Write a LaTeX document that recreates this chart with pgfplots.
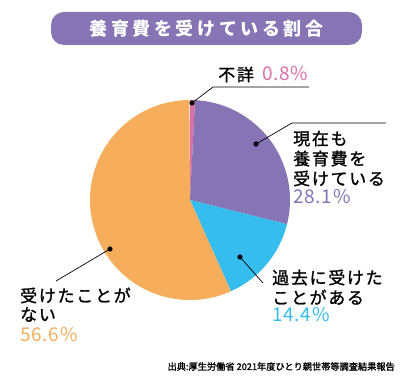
\documentclass[border=0pt]{standalone}
\usepackage{fontspec}
\usepackage{pgfplots}
\pgfplotsset{compat=1.18}
\newfontfamily\jp[LetterSpace=10,FakeBold=1.2]{Noto Sans CJK JP}
\newfontfamily\jpt[LetterSpace=20]{Noto Sans CJK JP}
\newfontfamily\num[LetterSpace=4]{Noto Sans CJK JP}
\newfontfamily\src[FakeBold=1.5]{Noto Sans CJK JP}
\definecolor{cpur}{HTML}{8674B5}
\definecolor{cblue}{HTML}{35BDEE}
\definecolor{corange}{HTML}{F6AE5C}
\definecolor{cpink}{HTML}{DC6EA9}
% data (percent)
\def\pA{0.8}   % 不詳
\def\pB{28.1}  % 現在も受けている
\def\pC{14.4}  % 過去に受けた
\def\pD{56.6}  % 受けたことがない
\pgfmathsetmacro\aA{90-3.6*\pA}
\pgfmathsetmacro\aB{\aA-3.6*\pB}
\pgfmathsetmacro\aC{\aB-3.6*\pC}
\pgfmathsetmacro\aD{\aC-3.6*\pD}
\newcommand\slice[3]{\fill[#3] (axis cs:190,188) -- ++(#1:100pt) arc[start angle=#1, end angle=#2, radius=100pt] -- cycle;}
\begin{document}
\begin{tikzpicture}
\begin{axis}[x=1pt,y=1pt,xmin=0,xmax=413,ymin=0,ymax=388,hide axis,clip=false]
\fill[white] (axis cs:0,0) rectangle (axis cs:413,388);
% title
\fill[cpur,rounded corners=13pt] (axis cs:51,343) rectangle (axis cs:362,376);
\node[text=white,font=\jpt\fontsize{18}{20}\selectfont\bfseries,inner sep=0] at (axis cs:206.5,359.5) {養育費を受けている割合};
% pie
\slice{90}{\aA}{cpink}
\slice{\aA}{\aB}{cpur}
\slice{\aB}{\aC}{cblue}
\slice{\aC}{\aD}{corange}
% leaders
\fill (axis cs:192,285) circle[radius=2.6pt];
\draw[line width=0.7pt] (axis cs:192,285) -- (axis cs:213,301) -- (axis cs:309,301);
\fill (axis cs:256,244) circle[radius=2.6pt];
\draw[line width=0.7pt] (axis cs:256,244) -- (axis cs:292,265) -- (axis cs:386,265);
\fill (axis cs:240,131) circle[radius=2.6pt];
\draw[line width=0.7pt] (axis cs:240,131) -- (axis cs:263,105);
\fill (axis cs:110,139) circle[radius=2.6pt];
\draw[line width=0.7pt] (axis cs:110,139) -- (axis cs:56,107);
% labels
\tikzset{lab/.style={anchor=base west,inner sep=0,font=\jp\fontsize{17}{19}\selectfont},
         pct/.style={anchor=base west,inner sep=0,font=\num\fontsize{19}{21}\selectfont}}
\node[lab] at (axis cs:218,307) {不詳};
\node[pct,text=cpink] at (axis cs:262,307) {0.8\%};
\node[lab] at (axis cs:293,243) {現在も};
\node[lab] at (axis cs:293,223) {養育費を};
\node[lab] at (axis cs:293,203) {受けている};
\node[pct,text=cpur] at (axis cs:293,184) {28.1\%};
\node[lab] at (axis cs:272,104) {過去に受けた};
\node[lab] at (axis cs:272,84) {ことがある};
\node[pct,text=cblue] at (axis cs:272,66) {14.4\%};
\node[lab] at (axis cs:20,86) {受けたことが};
\node[lab] at (axis cs:20,67) {ない};
\node[pct,text=corange] at (axis cs:20,46) {56.6\%};
\node[anchor=base east,inner sep=0,font=\src\fontsize{9.2}{10}\selectfont] at (axis cs:395,18) {出典:厚生労働省 2021年度ひとり親世帯等調査結果報告};
\end{axis}
\end{tikzpicture}
\end{document}
